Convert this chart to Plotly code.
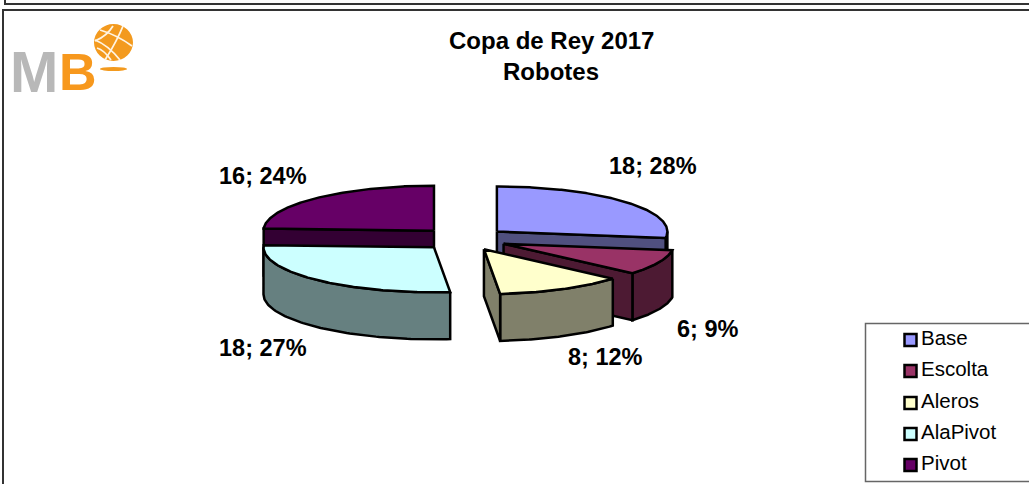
import numpy as np
import plotly.graph_objects as go

categories = ["Base", "Escolta", "Aleros", "AlaPivot", "Pivot"]
values = [18, 6, 8, 18, 16]
percent_labels = ["28%", "9%", "12%", "27%", "24%"]
title_lines = ["Copa de Rey 2017", "Robotes"]

TOP = dict(zip(categories, ["#9999FF", "#993366", "#FFFFCC", "#CCFFFF", "#660066"]))
SIDE = dict(zip(categories, ["#50507F", "#4D1A33", "#80806A", "#668080", "#330033"]))
LABEL_POS = dict(zip(categories, [(653, 166), (707.5, 329), (605, 357), (263, 348), (262.5, 176)]))
CX, CY, RX, RY, DEPTH, EXPLODE = 464.0, 239.0, 170.5, 45.0, 47.0, 43.5
FONT = "Liberation Sans, Arial, sans-serif"
W, H = 1029, 484

fig = go.Figure()


def poly(xs, ys, fill, name):
    fig.add_trace(go.Scatter(x=xs, y=ys, mode="lines", fill="toself", fillcolor=fill,
                             line=dict(color="black", width=2.5, shape="linear"),
                             hoverinfo="name", name=name, showlegend=False))


total = sum(values)
bounds = np.cumsum([0] + values) / total * 2 * np.pi
slices = {}
for i, c in enumerate(categories):
    a0, a1 = bounds[i], bounds[i + 1]
    mid = (a0 + a1) / 2
    ax = CX + EXPLODE * np.sin(mid)
    ay = CY - EXPLODE * np.cos(mid) * RY / RX
    slices[c] = (a0, a1, ax, ay)


def rim(c, t):
    _, _, ax, ay = slices[c]
    return ax + RX * np.sin(t), ay - RY * np.cos(t)


def draw_slice(c):
    a0, a1, ax, ay = slices[c]
    # outer wall: only the part of the rim that faces the viewer
    lo, hi = max(a0, np.pi / 2), min(a1, 3 * np.pi / 2)
    if lo < hi:
        t = np.linspace(lo, hi, 80)
        x, y = rim(c, t)
        poly(np.r_[x, x[::-1], x[0]], np.r_[y, y[::-1] + DEPTH, y[0]], SIDE[c], c)
    # cut faces that look towards the viewer
    if np.sin(a1) > 0:
        x, y = rim(c, a1)
        poly([ax, x, x, ax, ax], [ay, y, y + DEPTH, ay + DEPTH, ay], SIDE[c], c)
    if -np.sin(a0) > 0:
        x, y = rim(c, a0)
        poly([ax, x, x, ax, ax], [ay, y, y + DEPTH, ay + DEPTH, ay], SIDE[c], c)
    t = np.linspace(a0, a1, 160)
    x, y = rim(c, t)
    poly(np.r_[ax, x, ax], np.r_[ay, y, ay], TOP[c], c)


for c in ["Pivot", "Base", "Escolta", "AlaPivot", "Aleros"]:
    draw_slice(c)

# value labels
for c, v, p in zip(categories, values, percent_labels):
    x, y = LABEL_POS[c]
    fig.add_annotation(x=x, y=y, text=f"<b>{v}; {p}</b>", showarrow=False,
                       font=dict(family=FONT, size=23.5, color="black"))

# title
for line, y in zip(title_lines, [40, 71]):
    fig.add_annotation(x=551, y=y, text=f"<b>{line}</b>", showarrow=False,
                       font=dict(family=FONT, size=24, color="black"))

# legend box, swatches and names
fig.add_shape(type="rect", x0=865.5, x1=1040, y0=323.5, y1=481.5,
              line=dict(color="#666666", width=1.5), fillcolor="white", layer="below")
leg_y = [340, 371, 403, 434, 465]
fig.add_trace(go.Scatter(x=[910.5] * 5, y=leg_y, mode="markers",
                         marker=dict(symbol="square", size=12, color=[TOP[c] for c in categories],
                                     line=dict(color="black", width=2.5)),
                         hoverinfo="skip", showlegend=False))
fig.add_trace(go.Scatter(x=[921] * 5, y=leg_y, mode="text", text=categories,
                         textposition="middle right",
                         textfont=dict(family=FONT, size=20.5, color="black"),
                         hoverinfo="text", showlegend=False))

# frames
BORDER = dict(color="#333333", width=2)
fig.add_shape(type="rect", x0=5, x1=1040, y0=-10, y1=4, line=BORDER, layer="below")
fig.add_shape(type="rect", x0=3, x1=1040, y0=10, y1=495, line=BORDER, layer="below")

# logo
fig.add_annotation(x=8, y=71, xanchor="left", text="<b>M</b>", showarrow=False,
                   font=dict(family=FONT, size=58, color="#B8B8B8"))
fig.add_annotation(x=57, y=72, xanchor="left", text="<b>B</b>", showarrow=False,
                   font=dict(family=FONT, size=52, color="#F7981D"))
ORANGE = "#F39A1E"
fig.add_shape(type="circle", x0=94, x1=133, y0=24, y1=61, fillcolor=ORANGE, line_width=0)
fig.add_shape(type="circle", x0=100, x1=127, y0=67, y1=71, fillcolor=ORANGE, line_width=0)
WHITE = dict(color="#FFF4E2", width=1.8)
for p in ["M 95 40 Q 108 45 120 60", "M 100 30 Q 117 35 132 46", "M 97 48 Q 104 50 111 60",
          "M 123 26 Q 117 41 105 60", "M 113 26 Q 107 36 95 41"]:
    fig.add_shape(type="path", path=p, line=WHITE)

fig.update_layout(width=W, height=H, margin=dict(l=0, r=0, t=0, b=0), autosize=False,
                  paper_bgcolor="white", plot_bgcolor="white", showlegend=False,
                  xaxis=dict(range=[0, W], visible=False, fixedrange=True),
                  yaxis=dict(range=[H, 0], visible=False, fixedrange=True))
fig.write_html("out.html", config={"displayModeBar": False},
               post_script="document.body.style.margin='0';document.body.style.overflow='hidden';")
